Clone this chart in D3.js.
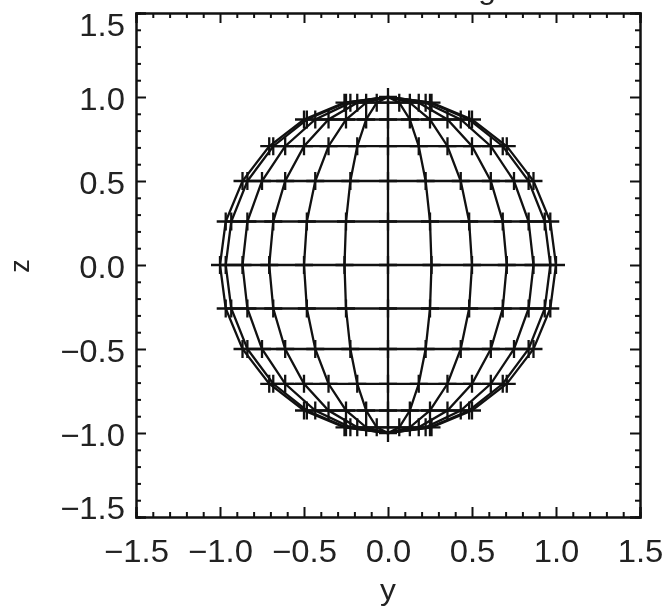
<!DOCTYPE html>
<html>
<head>
<meta charset="utf-8">
<script src="https://cdn.jsdelivr.net/npm/d3@7"></script>
<style>
  html, body { margin: 0; padding: 0; background: #fff; overflow: hidden; }
  text { font-family: "Liberation Sans", sans-serif; fill: #222; }
  /* the original lettering is wider than Liberation Sans */
  .wide { transform-box: fill-box; transform-origin: center; transform: scaleX(1.06); }
  .wide-end { transform-box: fill-box; transform-origin: right center; transform: scaleX(1.06); }
</style>
</head>
<body>
<div id="chart"></div>
<script>
// y position of every point on a ring, left to right
var row90 = [0, 0, 0, 0, 0, 0, 0, 0, 0, 0, 0, 0, 0];
var row75 = [-0.259, -0.25, -0.224, -0.183, -0.13, -0.067, 0, 0.067, 0.13, 0.183, 0.224, 0.25, 0.259];
var row60 = [-0.5, -0.483, -0.433, -0.354, -0.25, -0.13, 0, 0.13, 0.25, 0.354, 0.433, 0.483, 0.5];
var row45 = [-0.707, -0.683, -0.612, -0.5, -0.354, -0.183, 0, 0.183, 0.354, 0.5, 0.612, 0.683, 0.707];
var row30 = [-0.866, -0.837, -0.75, -0.612, -0.433, -0.224, 0, 0.224, 0.433, 0.612, 0.75, 0.837, 0.866];
var row15 = [-0.966, -0.933, -0.837, -0.683, -0.483, -0.25, 0, 0.25, 0.483, 0.683, 0.837, 0.933, 0.966];
var row0 = [-1, -0.966, -0.866, -0.707, -0.5, -0.259, 0, 0.259, 0.5, 0.707, 0.866, 0.966, 1];

var ringZ = [-1, -0.966, -0.866, -0.707, -0.5, -0.259, 0, 0.259, 0.5, 0.707, 0.866, 0.966, 1];
var ringY = [row90, row75, row60, row45, row30, row15, row0, row15, row30, row45, row60, row75, row90];

var majorTicks = [-1.5, -1, -0.5, 0, 0.5, 1, 1.5];
var minorTicks = [-1.4, -1.3, -1.2, -1.1, -0.9, -0.8, -0.7, -0.6, -0.4, -0.3, -0.2, -0.1,
  0.1, 0.2, 0.3, 0.4, 0.6, 0.7, 0.8, 0.9, 1.1, 1.2, 1.3, 1.4];

var margin = { top: 13, right: 28, bottom: 91, left: 136 },
  width = 668 - margin.left - margin.right,
  height = 608 - margin.top - margin.bottom;

var svg = d3
  .select("#chart")
  .append("svg")
  .attr("width", 668)
  .attr("height", 608)
  .style("display", "block")
  .style("filter", "blur(0.5px)");

var g = svg
  .append("g")
  .attr("transform", "translate(" + margin.left + "," + margin.top + ")");

var x = d3.scaleLinear().domain([-1.5, 1.5]).range([0, width]);
var y = d3.scaleLinear().domain([-1.5, 1.5]).range([height, 0]);

var fmt = function (d) {
  return (d < 0 ? "\u2212" : "") + Math.abs(d).toFixed(1);
};

function drawAxis(axisFn, scale, translate, padding, withLabels) {
  var major = g
    .append("g")
    .attr("transform", translate)
    .call(axisFn(scale).tickValues(majorTicks).tickSize(-10).tickPadding(padding).tickFormat(withLabels ? fmt : ""));
  var minor = g
    .append("g")
    .attr("transform", translate)
    .call(axisFn(scale).tickValues(minorTicks).tickSize(-5).tickFormat(""));
  [major, minor].forEach(function (a) {
    a.select(".domain").attr("stroke", "#111").attr("stroke-width", 2);
    a.selectAll(".tick line").attr("stroke", "#111").attr("stroke-width", 2);
  });
  major
    .selectAll("text")
    .style("font-size", "31px")
    .style("font-family", '"Liberation Sans", sans-serif')
    .style("fill", "#222");
  return major;
}

// ticks point inward on all four sides
var bottomAxis = drawAxis(d3.axisBottom, x, "translate(0," + height + ")", 23, true);
var leftAxis = drawAxis(d3.axisLeft, y, "translate(0,0)", 11, true);
drawAxis(d3.axisTop, x, "translate(0,0)", 3, false);
drawAxis(d3.axisRight, y, "translate(" + width + ",0)", 3, false);

bottomAxis.selectAll("text").attr("class", "wide");
// the two end labels on the left sit inside the frame height
leftAxis
  .selectAll("text")
  .attr("class", "wide-end")
  .attr("dy", function (d) {
    if (d === 1.5) return 22;
    if (d === -1.5) return 1;
    return 12;
  });

var line = d3
  .line()
  .x(function (d) {
    return x(d[0]);
  })
  .y(function (d) {
    return y(d[1]);
  });

var wire = g
  .append("g")
  .attr("fill", "none")
  .attr("stroke", "#111")
  .attr("stroke-width", 2.3);

// rings of constant z
wire
  .selectAll("path.ring")
  .data(ringZ)
  .enter()
  .append("path")
  .attr("class", "ring")
  .attr("d", function (z, i) {
    return line(
      ringY[i].map(function (v) {
        return [v, z];
      })
    );
  });

// meridians, one per column of the rows
wire
  .selectAll("path.meridian")
  .data(row0)
  .enter()
  .append("path")
  .attr("class", "meridian")
  .attr("d", function (d, j) {
    return line(
      ringZ.map(function (z, i) {
        return [ringY[i][j], z];
      })
    );
  });

// plus symbol at every point, all in one path so the poles don't pile up
var plusPath = d3.path();
ringZ.forEach(function (z, i) {
  ringY[i].forEach(function (v) {
    plusPath.moveTo(x(v) - 9, y(z));
    plusPath.lineTo(x(v) + 9, y(z));
    plusPath.moveTo(x(v), y(z) - 9);
    plusPath.lineTo(x(v), y(z) + 9);
  });
});
wire.append("path").attr("d", plusPath.toString());

// axis titles
svg
  .append("text")
  .attr("class", "wide")
  .attr("x", margin.left + width / 2)
  .attr("y", 600)
  .attr("text-anchor", "middle")
  .style("font-size", "30px")
  .text("y");

svg
  .append("text")
  .attr("transform", "translate(29,266) rotate(-90)")
  .attr("text-anchor", "middle")
  .style("font-size", "27px")
  .text("z");

// the plot title runs off the top of the page, only a descender shows
svg
  .append("text")
  .attr("class", "wide")
  .attr("x", 487)
  .attr("y", -1)
  .attr("text-anchor", "middle")
  .style("font-size", "30px")
  .text("g");
</script>
</body>
</html>
